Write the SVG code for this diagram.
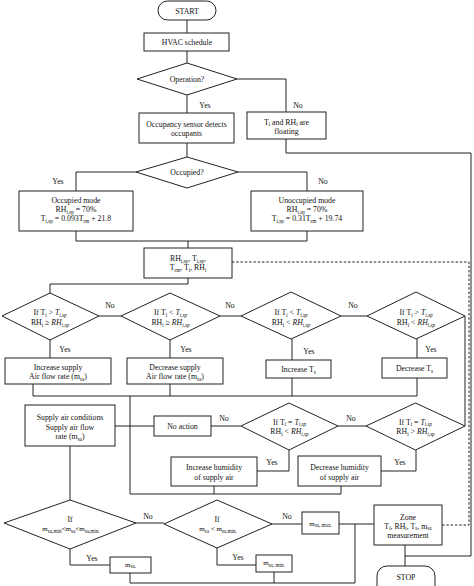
<svg xmlns="http://www.w3.org/2000/svg" width="474" height="586" viewBox="0 0 474 586">
<style>
.n{fill:#fff;stroke:#222;stroke-width:1}
.c{fill:none;stroke:#222;stroke-width:1}
.d{fill:none;stroke:#222;stroke-width:1;stroke-dasharray:2.5,1.8}
text{font-family:"Liberation Serif","Times New Roman",serif;font-size:7.8px;fill:#111;text-anchor:middle}
.s{font-size:5.2px}
.i{font-style:italic}
</style>
<rect width="474" height="586" fill="#fff"/>
<g id="connectors">
<path class="c" d="M187,20V33 M187,51V63 M187,95V113 M237,79H286V112 M187,143V157"/>
<path class="c" d="M286,139V153H471V556H405 M405,545V566"/>
<path class="c" d="M136,172H76V191 M238,172H307V191 M76,231V241H307V231 M188,241V248"/>
<path class="c" d="M188,278V284H50V293 M99,316H121 M220,316H241 M341,316H367 M465,316V426"/>
<path class="c" d="M50,340V358 M170,340V358 M292,339V360 M417,339V358"/>
<path class="c" d="M33,384V396H417V378 M170,384V396 M292,378V396 M130,396V494H341V486 M214,486V494 M115,426H154 M211,426H241 M338,426H366"/>
<path class="c" d="M289,450V471H257 M416,450V471H381"/>
<path class="c" d="M70,446V500 M136,523H164 M272,524H302 M339,524H374 M355,524V583H130V573 M274,572V583 M70,549V565H110 M217,548V565H256"/>
<path class="d" d="M442,525H469V262H232"/>
</g>
<g id="start"><rect class="n" x="158" y="1" width="58" height="19" rx="9.5"/><text x="187" y="14">START</text></g>
<g id="hvac"><rect class="n" x="144" y="33" width="85" height="18"/><text x="187" y="45">HVAC schedule</text></g>
<g id="operation"><polygon class="n" points="187,63 237,79 187,95 137,79"/><text x="187" y="82">Operation?</text></g>
<g id="occupancy"><rect class="n" x="139" y="113" width="95" height="30"/><text x="186.5" y="127">Occupancy sensor detects</text><text x="186.5" y="136">occupants</text></g>
<g id="floating"><rect class="n" x="247" y="112" width="79" height="27"/><text x="286.5" y="124.5">T<tspan class="s" dy="1.5">i</tspan><tspan dy="-1.5"> and RH</tspan><tspan class="s" dy="1.5">i</tspan><tspan dy="-1.5"> are</tspan></text><text x="286.5" y="133.5">floating</text></g>
<g id="occupied"><polygon class="n" points="187,157 238,172 187,188 136,172"/><text x="187" y="175">Occupied?</text></g>
<g id="occ-mode"><rect class="n" x="19" y="191" width="114" height="40"/><text x="76" y="203">Occupied mode</text><text x="76" y="212">RH<tspan class="s" dy="1.5">i,sp</tspan><tspan dy="-1.5"> = 70%</tspan></text><text x="76" y="221">T<tspan class="s" dy="1.5">i,sp</tspan><tspan dy="-1.5"> = 0.093T</tspan><tspan class="s" dy="1.5">rm</tspan><tspan dy="-1.5"> + 21.8</tspan></text></g>
<g id="unocc-mode"><rect class="n" x="251" y="191" width="112" height="40"/><text x="307" y="203">Unoccupied mode</text><text x="307" y="212">RH<tspan class="s" dy="1.5">i,sp</tspan><tspan dy="-1.5"> = 70%</tspan></text><text x="307" y="221">T<tspan class="s" dy="1.5">i,sp</tspan><tspan dy="-1.5"> = 0.31T</tspan><tspan class="s" dy="1.5">rm</tspan><tspan dy="-1.5"> + 19.74</tspan></text></g>
<g id="inputs"><rect class="n" x="144" y="248" width="88" height="30"/><text x="188" y="261">RH<tspan class="s" dy="1.5">i,sp</tspan><tspan dy="-1.5">, T</tspan><tspan class="s" dy="1.5">i,sp</tspan><tspan dy="-1.5">,</tspan></text><text x="188" y="270">T<tspan class="s" dy="1.5">rm</tspan><tspan dy="-1.5">, T</tspan><tspan class="s" dy="1.5">i</tspan><tspan dy="-1.5">, RH</tspan><tspan class="s" dy="1.5">i</tspan></text></g>
<g id="cond1"><polygon class="n" points="50,293 99,316 50,340 2,316"/><text x="50" y="315">If T<tspan class="s" dy="1.5">i</tspan><tspan dy="-1.5"> &gt; </tspan><tspan class="i">T</tspan><tspan class="s i" dy="1.5">i,sp</tspan></text><text x="50" y="325">RH<tspan class="s" dy="1.5">i</tspan><tspan dy="-1.5"> ≥ </tspan><tspan class="i">RH</tspan><tspan class="s i" dy="1.5">i,sp</tspan></text></g>
<g id="cond2"><polygon class="n" points="170,293 220,316 170,340 121,316"/><text x="170.5" y="315">If T<tspan class="s" dy="1.5">i</tspan><tspan dy="-1.5"> &lt; </tspan><tspan class="i">T</tspan><tspan class="s i" dy="1.5">i,sp</tspan></text><text x="170.5" y="325">RH<tspan class="s" dy="1.5">i</tspan><tspan dy="-1.5"> ≥ </tspan><tspan class="i">RH</tspan><tspan class="s i" dy="1.5">i,sp</tspan></text></g>
<g id="cond3"><polygon class="n" points="291,292 341,316 291,339 241,316"/><text x="291" y="315">If T<tspan class="s" dy="1.5">i</tspan><tspan dy="-1.5"> &lt; </tspan><tspan class="i">T</tspan><tspan class="s i" dy="1.5">i,sp</tspan></text><text x="291" y="325">RH<tspan class="s" dy="1.5">i</tspan><tspan dy="-1.5"> &lt; </tspan><tspan class="i">RH</tspan><tspan class="s i" dy="1.5">i,sp</tspan></text></g>
<g id="cond4"><polygon class="n" points="416,292 465,316 416,339 367,316"/><text x="416" y="315">If T<tspan class="s" dy="1.5">i</tspan><tspan dy="-1.5"> &gt; </tspan><tspan class="i">T</tspan><tspan class="s i" dy="1.5">i,sp</tspan></text><text x="416" y="325">RH<tspan class="s" dy="1.5">i</tspan><tspan dy="-1.5"> &lt; </tspan><tspan class="i">RH</tspan><tspan class="s i" dy="1.5">i,sp</tspan></text></g>
<g id="inc-flow"><rect class="n" x="5" y="358" width="106" height="26"/><text x="58" y="369.5">Increase supply</text><text x="58" y="379">Air flow rate (m<tspan class="s" dy="1.5">sa</tspan><tspan dy="-1.5">)</tspan></text></g>
<g id="dec-flow"><rect class="n" x="127" y="358" width="96" height="26"/><text x="175" y="369.5">Decrease supply</text><text x="175" y="379">Air flow rate (m<tspan class="s" dy="1.5">sa</tspan><tspan dy="-1.5">)</tspan></text></g>
<g id="inc-ts"><rect class="n" x="266" y="360" width="65" height="18"/><text x="298.5" y="372">Increase T<tspan class="s" dy="1.5">s</tspan></text></g>
<g id="dec-ts"><rect class="n" x="382" y="358" width="65" height="20"/><text x="414.5" y="371">Decrease T<tspan class="s" dy="1.5">s</tspan></text></g>
<g id="supply"><rect class="n" x="25" y="405" width="90" height="41"/><text x="70" y="419.5">Supply air conditions</text><text x="70" y="429.5">Supply air flow</text><text x="70" y="439">rate (m<tspan class="s" dy="1.5">sa</tspan><tspan dy="-1.5">)</tspan></text></g>
<g id="no-action"><rect class="n" x="154" y="416" width="57" height="20"/><text x="182.5" y="429">No action</text></g>
<g id="cond5"><polygon class="n" points="289,403 338,426 289,450 241,426"/><text x="289.5" y="424.5">If T<tspan class="s" dy="1.5">i</tspan><tspan dy="-1.5"> = </tspan><tspan class="i">T</tspan><tspan class="s i" dy="1.5">i,sp</tspan></text><text x="289.5" y="434">RH<tspan class="s" dy="1.5">i</tspan><tspan dy="-1.5"> &lt; </tspan><tspan class="i">RH</tspan><tspan class="s i" dy="1.5">i,sp</tspan></text></g>
<g id="cond6"><polygon class="n" points="415.5,403 465,426 415.5,450 366,426"/><text x="415.5" y="424.5">If T<tspan class="s" dy="1.5">i</tspan><tspan dy="-1.5"> = </tspan><tspan class="i">T</tspan><tspan class="s i" dy="1.5">i,sp</tspan></text><text x="415.5" y="434">RH<tspan class="s" dy="1.5">i</tspan><tspan dy="-1.5"> &gt; </tspan><tspan class="i">RH</tspan><tspan class="s i" dy="1.5">i,sp</tspan></text></g>
<g id="inc-hum"><rect class="n" x="171" y="457" width="86" height="29"/><text x="214" y="469.5">Increase humidity</text><text x="214" y="479.5">of supply air</text></g>
<g id="dec-hum"><rect class="n" x="298" y="456" width="83" height="30"/><text x="339.5" y="469.5">Decrease humidity</text><text x="339.5" y="479.5">of supply air</text></g>
<g id="cond7"><polygon class="n" points="70,500 136,523 70,549 4,523"/><text x="70" y="521.5">If</text><text x="71" y="531" style="font-size:7px">m<tspan class="s" dy="1.5">sa,min</tspan><tspan dy="-1.5">&lt;m</tspan><tspan class="s" dy="1.5">sa</tspan><tspan dy="-1.5">&lt;m</tspan><tspan class="s" dy="1.5">sa,min.</tspan></text></g>
<g id="cond8"><polygon class="n" points="217,500 272,524 217,548 164,524"/><text x="217" y="521.5">If</text><text x="218" y="531" style="font-size:7px">m<tspan class="s" dy="1.5">sa</tspan><tspan dy="-1.5"> &lt; m</tspan><tspan class="s" dy="1.5">sa,min.</tspan></text></g>
<g id="msa-max"><rect class="n" x="302" y="512" width="37" height="22"/><text x="320.5" y="525.5" style="font-size:7px">m<tspan class="s" dy="1.5">sa, max.</tspan></text></g>
<g id="msa"><rect class="n" x="110" y="557" width="41" height="16"/><text x="130.5" y="566.5" style="font-size:7px">m<tspan class="s" dy="1.5">sa.</tspan></text></g>
<g id="msa-min"><rect class="n" x="256" y="555" width="36" height="17"/><text x="274" y="565" style="font-size:7px">m<tspan class="s" dy="1.5">sa, min.</tspan></text></g>
<g id="zone"><rect class="n" x="374" y="505" width="68" height="40"/><text x="408" y="519.5">Zone</text><text x="408" y="528.5">T<tspan class="s" dy="1.5">i</tspan><tspan dy="-1.5">, RH</tspan><tspan class="s" dy="1.5">i</tspan><tspan dy="-1.5">, T</tspan><tspan class="s" dy="1.5">s</tspan><tspan dy="-1.5">, m</tspan><tspan class="s" dy="1.5">sa</tspan></text><text x="408" y="538">measurement</text></g>
<g id="stop"><rect class="n" x="377" y="566" width="58" height="30" rx="10"/><text x="406" y="580">STOP</text></g>
<g id="labels">
<text x="205" y="107.5">Yes</text><text x="298" y="107.5">No</text>
<text x="58" y="183.5">Yes</text><text x="323" y="183.5">No</text>
<text x="110" y="307.5">No</text><text x="230" y="307.5">No</text><text x="353" y="307.5">No</text>
<text x="65" y="351.5">Yes</text><text x="186" y="351.5">Yes</text><text x="309" y="353.5">Yes</text><text x="431" y="351.5">Yes</text>
<text x="224" y="420.5">No</text><text x="351" y="420.5">No</text>
<text x="272" y="464.5">Yes</text><text x="400" y="464.5">Yes</text>
<text x="148" y="518.5">No</text><text x="287" y="518.5">No</text>
<text x="92" y="560.5">Yes</text><text x="238" y="559.5">Yes</text>
</g>
</svg>
